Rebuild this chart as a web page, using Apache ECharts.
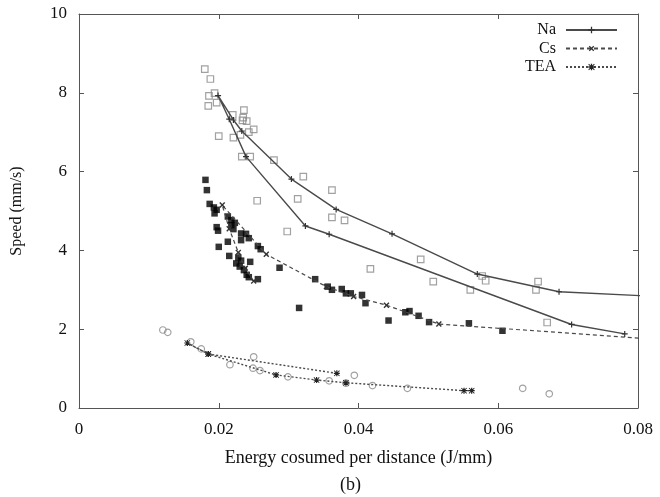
<!DOCTYPE html>
<html><head><meta charset="utf-8">
<script src="https://cdn.jsdelivr.net/npm/echarts@6/dist/echarts.min.js"></script>
<style>html,body{margin:0;padding:0;background:#fff}#c{width:660px;height:497px}</style>
</head><body><div id="c"></div>
<script>
// Measured data (x: J/mm, y: mm/s)
const naData = [[0.0180,8.60],[0.0188,8.35],[0.0186,7.92],[0.0194,7.99],[0.0185,7.67],[0.0197,7.75],[0.0220,7.44],[0.0236,7.56],[0.0235,7.37],[0.0234,7.30],[0.0240,7.28],[0.0250,7.07],[0.0243,7.00],[0.0231,6.93],[0.0221,6.86],[0.0200,6.90],[0.0233,6.38],[0.0245,6.38],[0.0279,6.29],[0.0321,5.87],[0.0362,5.53],[0.0255,5.26],[0.0313,5.31],[0.0362,4.84],[0.0380,4.76],[0.0298,4.48],[0.0489,3.77],[0.0417,3.53],[0.0507,3.21],[0.0577,3.35],[0.0582,3.23],[0.0560,3.00],[0.0657,3.21],[0.0654,3.00],[0.0670,2.17]];
const naLine = [[0.0805,2.85],[0.0687,2.95],[0.0570,3.40],[0.0448,4.42],[0.0368,5.04],[0.0304,5.81],[0.0233,7.03],[0.0221,7.31],[0.0199,7.93],[0.0215,7.33],[0.0239,6.38],[0.0324,4.62],[0.0358,4.41],[0.0705,2.12],[0.0781,1.88]];
const csData = [[0.0181,5.79],[0.0183,5.53],[0.0187,5.18],[0.0193,5.09],[0.0197,5.03],[0.0194,4.94],[0.0213,4.86],[0.0218,4.77],[0.0223,4.70],[0.0218,4.64],[0.0221,4.54],[0.0197,4.59],[0.0199,4.50],[0.0232,4.43],[0.0239,4.42],[0.0243,4.31],[0.0232,4.26],[0.0256,4.11],[0.0260,4.03],[0.0213,4.22],[0.0200,4.09],[0.0215,3.86],[0.0228,3.82],[0.0232,3.74],[0.0225,3.67],[0.0245,3.71],[0.0230,3.59],[0.0236,3.50],[0.0240,3.38],[0.0243,3.32],[0.0256,3.27],[0.0287,3.56],[0.0315,2.54],[0.0338,3.27],[0.0356,3.08],[0.0362,3.00],[0.0376,3.02],[0.0382,2.91],[0.0389,2.91],[0.0405,2.87],[0.0410,2.66],[0.0443,2.22],[0.0467,2.43],[0.0473,2.46],[0.0486,2.34],[0.0501,2.18],[0.0558,2.15],[0.0606,1.96]];
const csLine = [[0.0250,3.22],[0.0238,3.55],[0.0228,3.95],[0.0215,4.55],[0.0205,5.15],[0.0268,3.90],[0.0354,3.08],[0.0393,2.83],[0.0440,2.61],[0.0515,2.13],[0.0805,1.77]];
const teaData = [[0.0120,1.98],[0.0127,1.92],[0.0160,1.68],[0.0175,1.50],[0.0216,1.10],[0.0250,1.30],[0.0249,1.01],[0.0259,0.95],[0.0299,0.79],[0.0358,0.69],[0.0382,0.63],[0.0394,0.83],[0.0420,0.57],[0.0470,0.50],[0.0635,0.50],[0.0673,0.36]];
const teaLine = [[0.0369,0.88],[0.0185,1.37],[0.0155,1.65],[0.0185,1.37],[0.0282,0.84],[0.0340,0.71],[0.0382,0.64],[0.0551,0.44],[0.0562,0.44]];
const xTicks = [0, 0.02, 0.04, 0.06, 0.08];
const yTicks = [0, 2, 4, 6, 8, 10];

const FONT = 'Liberation Serif';
const LC = '#4a4a4a';
const PLUS = 'path://M4,0H6V4H10V6H6V10H4V6H0V4H4Z';
const STAR = 'path://M4,0H6V4H10V6H6V10H4V6H0V4H4Z M1,0L5,4L9,0L10,1L6,5L10,9L9,10L5,6L1,10L0,9L4,5L0,1Z';

const chart = echarts.init(document.getElementById('c'), null, {renderer:'canvas'});
const axisCommon = {
  type:'value', min:0, splitLine:{show:false},
  axisLine:{show:true, onZero:false, lineStyle:{color:'#555', width:1}},
  axisTick:{show:true, inside:true, length:5, lineStyle:{color:'#555'}}
};
chart.setOption({
  animation:false,
  grid:{left:79, right:22, top:14, bottom:89, show:false},
  legend:{
    data:['Na','Cs','TEA'], orient:'vertical', right:37, top:17, align:'right',
    itemWidth:51, itemHeight:8, itemGap:2.5,
    textStyle:{fontFamily:FONT, fontSize:16, color:'#111', padding:[0,5,0,0]}
  },
  xAxis:[
    Object.assign({}, axisCommon, {max:0.08, interval:0.02, position:'bottom',
      name:'Energy cosumed per distance (J/mm)', nameLocation:'middle', nameGap:41,
      nameTextStyle:{fontFamily:FONT, fontSize:18, color:'#111'},
      axisLabel:{margin:13, fontFamily:FONT, fontSize:17, color:'#111',
        formatter:v => { const t = xTicks.find(k => Math.abs(k-v)<1e-9); return t===undefined?'':String(t); }}}),
    Object.assign({}, axisCommon, {max:0.08, interval:0.02, position:'top', axisLabel:{show:false}})
  ],
  yAxis:[
    Object.assign({}, axisCommon, {max:10, interval:2, position:'left',
      name:'Speed (mm/s)', nameLocation:'middle', nameGap:54,
      nameTextStyle:{fontFamily:FONT, fontSize:16, color:'#111'},
      axisLabel:{margin:12, fontFamily:FONT, fontSize:17, color:'#111',
        formatter:v => { const t = yTicks.find(k => Math.abs(k-v)<1e-9); return t===undefined?'':String(t); }}}),
    Object.assign({}, axisCommon, {max:10, interval:2, position:'right', axisLabel:{show:false}})
  ],
  graphic:[{type:'text', left:340, top:476, style:{text:'(b)', font:'18px "Liberation Serif"', fill:'#111'}}],
  series:[
    {name:'Na data', type:'scatter', data:naData, symbol:'rect', symbolSize:6.5,
      itemStyle:{color:'rgba(255,255,255,0)', borderColor:'#8a8a8a', borderWidth:1.2}, z:2},
    {name:'Cs data', type:'scatter', data:csData, symbol:'rect', symbolSize:6.5,
      itemStyle:{color:'#000'}, z:2},
    {name:'TEA data', type:'scatter', data:teaData, symbol:'circle', symbolSize:6.5,
      itemStyle:{color:'rgba(255,255,255,0)', borderColor:'#8a8a8a', borderWidth:1.2}, z:2},
    {name:'Na', type:'line', data:naLine, symbol:PLUS, symbolSize:6, showSymbol:true,
      lineStyle:{color:LC, width:1.4, type:'solid'}, itemStyle:{color:'#333'}, z:3, clip:true},
    {name:'Cs', type:'line', data:csLine, symbol:PLUS, symbolRotate:45, symbolSize:7, showSymbol:true,
      lineStyle:{color:LC, width:1.2, type:[4,3]}, itemStyle:{color:'#333'}, z:3, clip:true},
    {name:'TEA', type:'line', data:teaLine, symbol:STAR, symbolSize:6, showSymbol:true,
      lineStyle:{color:LC, width:1.4, type:[2,2]}, itemStyle:{color:'#222'}, z:3, clip:true}
  ]
});
</script></body></html>
